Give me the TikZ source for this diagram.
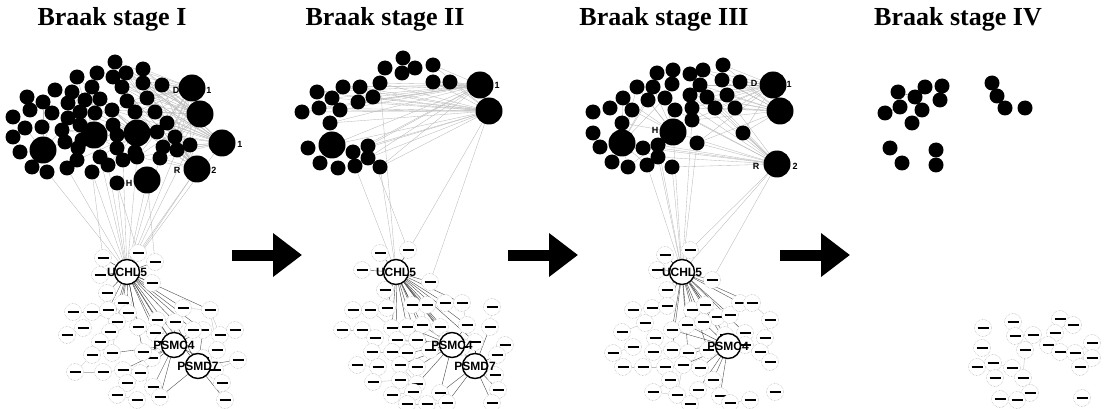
\documentclass[tikz,border=0pt]{standalone}
\usepackage{fontspec}
\setmainfont{Liberation Serif}
\setsansfont{Liberation Sans}
\usepackage{tikz}
\usetikzlibrary{arrows.meta,backgrounds,positioning}

\newcommand{\genebar}{\rule[-1.4pt]{11pt}{2.8pt}}

\begin{document}
\begin{tikzpicture}[x=1pt, y=-1pt,
   hub/.style={circle,fill=black,minimum size=15pt,inner sep=0pt},
   bighub/.style={circle,fill=black,minimum size=27pt,inner sep=0pt},
   prot/.style={circle,draw=gray!65,densely dotted,line width=0.5pt,fill=white,minimum size=17pt,inner sep=0pt},
   keyprot/.style={circle,draw=black,line width=1.4pt,fill=white,minimum size=25pt,inner sep=0pt},
   keyname/.style={font=\sffamily\bfseries\fontsize{12}{12}\selectfont,inner sep=0pt},
   frag/.style={font=\sffamily\bfseries\fontsize{9}{9}\selectfont,inner sep=0pt},
   stage/.style={font=\bfseries\fontsize{26}{26}\selectfont,inner sep=0pt},
   link/.style={draw=gray!55,line width=0.35pt},
   tie/.style={draw=black!70,line width=0.4pt},
   bigarrow/.style={line width=11pt,-{Triangle[length=29pt,width=42pt]}}]
   \useasboundingbox (0,0) rectangle (1104,409);

   \node[stage] (stA) at (112,19) {Braak stage I};
   \node[stage] (stB) at (385,19) {Braak stage II};
   \node[stage] (stC) at (664,19) {Braak stage III};
   \node[stage] (stD) at (958,19) {Braak stage IV};

   \coordinate (arrAs) at (232,255);
   \coordinate (arrAe) at (302,255);
   \coordinate (arrBs) at (508,255);
   \coordinate (arrBe) at (578,255);
   \coordinate (arrCs) at (780,255);
   \coordinate (arrCe) at (850,255);
   \draw[bigarrow] (arrAs) -- (arrAe);
   \draw[bigarrow] (arrBs) -- (arrBe);
   \draw[bigarrow] (arrCs) -- (arrCe);

   \foreach \x/\y [count=\k] in {115/62,97/73,77/77,113/77,126/73,143/69,55/90,27/97,72/92,92/87,
      122/87,143/83,162/85,43/102,68/103,85/100,100/99,127/101,147/98,13/117,30/110,52/113,68/118,
      80/112,95/113,112/110,135/112,155/112,25/128,42/127,62/130,80/125,113/125,167/123,13/137,
      65/142,82/140,117/135,157/132,175/137,20/152,78/148,117/148,135/152,163/147,177/150,190/145,
      32/167,47/172,67/168,77/160,92/172,100/157,108/165,123/160,137/157,160/158,117/183}
      \node[hub] (pAt\k) at (\x,\y) {};
   \foreach \x/\y [count=\k] in {192/88,200/114,222/143,197/169,43/150,94/135,137/133,147/180}
      \node[bighub] (pAb\k) at (\x,\y) {};
   \node[frag] (pAf1) at (176,90) {D};
   \node[frag] (pAf2) at (209,90) {1};
   \node[frag] (pAf3) at (240,144) {1};
   \node[frag] (pAf4) at (177,170) {R};
   \node[frag] (pAf5) at (214,170) {2};
   \node[frag] (pAf6) at (129,183) {H};

   \foreach \x/\y [count=\k] in {103/258,138/253,155/262,100/275,152/283,107/293,123/303,73/312,
      92/312,108/310,128/313,117/322,138/327,157/320,175/322,183/308,210/310,83/328,67/335,203/330,
      220/335,110/332,155/333,100/342,112/353,92/355,75/372,103/372,123/370,140/373,152/358,163/342,
      143/352,203/358,217/350,215/370,222/383,193/330,127/383,153/387,117/395,137/400,160/397,
      225/400,238/360,235/330}
      \node[prot] (pAs\k) at (\x,\y) {\genebar};
   \node[keyprot] (pAu) at (127,272) {};
   \node[keyname] (pAuTxt) at (pAu) {UCHL5};
   \node[keyprot] (pAc) at (174,345) {};
   \node[keyname] (pAcTxt) at (pAc) {PSMC4};
   \node[keyprot] (pAd) at (198,366) {};
   \node[keyname] (pAdTxt) at (pAd) {PSMD7};

   \foreach \x/\y [count=\k] in {403/58,385/68,402/73,415/68,433/65,433/82,450/82,380/83,360/87,
      343/87,317/92,332/98,358/102,373/97,302/112,319/108,340/110,330/123,308/148,353/152,368/146,
      320/163,338/168,355/166,368/158,380/167}
      \node[hub] (pBt\k) at (\x,\y) {};
   \foreach \x/\y [count=\k] in {480/85,489/111,332/145}
      \node[bighub] (pBb\k) at (\x,\y) {};
   \node[frag] (pBf1) at (452,83) {D};
   \node[frag] (pBf2) at (497,85) {1};

   \foreach \x/\y [count=\k] in {380/253,408/250,362/270,430/282,385/290,353/310,370/310,387/308,
      412/305,427/305,445/303,462/303,492/307,342/330,362/330,392/328,407/327,422/325,440/327,
      467/325,490/327,505/345,375/338,397/340,417/340,447/340,475/342,372/352,392/352,407/353,
      430/350,462/347,497/355,357/365,378/367,400/365,417/367,495/375,373/382,400/380,417/384,
      498/390,392/395,413/392,440/393,407/404,427/404,447/403,492/403}
      \node[prot] (pBs\k) at (\x,\y) {\genebar};
   \node[keyprot] (pBu) at (396,272) {};
   \node[keyname] (pBuTxt) at (pBu) {UCHL5};
   \node[keyprot] (pBc) at (452,345) {};
   \node[keyname] (pBcTxt) at (pBc) {PSMC4};
   \node[keyprot] (pBd) at (475,366) {};
   \node[keyname] (pBdTxt) at (pBd) {PSMD7};

   \foreach \x/\y [count=\k] in {723/65,703/70,690/74,673/70,657/73,637/87,653/87,672/84,700/85,
      722/80,740/82,623/98,648/100,665/98,690/95,707/97,727/95,610/108,632/110,675/110,692/108,
      715/108,735/108,593/112,622/123,692/120,593/133,600/147,643/148,658/145,697/143,743/133,
      612/162,628/167,647/165,658/157,672/167}
      \node[hub] (pCt\k) at (\x,\y) {};
   \foreach \x/\y [count=\k] in {773/85,780/111,777/164,622/143,673/132}
      \node[bighub] (pCb\k) at (\x,\y) {};
   \node[frag] (pCf1) at (754,83) {D};
   \node[frag] (pCf2) at (789,84) {1};
   \node[frag] (pCf3) at (756,166) {R};
   \node[frag] (pCf4) at (795,166) {2};
   \node[frag] (pCf5) at (655,130) {H};

   \foreach \x/\y [count=\k] in {665/255,690/250,657/270,712/280,667/290,633/310,652/308,667/306,
      692/310,705/305,717/317,730/315,740/303,752/303,770/320,645/323,622/332,655/338,672/330,
      687/325,703/322,725/335,745/333,765/338,633/347,613/353,653/352,672/350,688/353,708/350,
      745/345,760/352,623/367,643/367,665/367,683/365,700/368,770/362,670/380,713/380,653/392,
      677/395,698/390,720/396,690/404,730/403,750/400,775/392}
      \node[prot] (pCs\k) at (\x,\y) {\genebar};
   \node[keyprot] (pCu) at (682,272) {};
   \node[keyname] (pCuTxt) at (pCu) {UCHL5};
   \node[keyprot] (pCc) at (728,346) {};
   \node[keyname] (pCcTxt) at (pCc) {PSMC4};

   \foreach \x/\y [count=\k] in {898/92,925/87,942/86,915/97,940/100,900/107,885/113,922/110,
      912/123,992/83,997/96,1005/108,1025/108,890/148,902/163,936/150,936/165}
      \node[hub] (pDt\k) at (\x,\y) {};
   \foreach \x/\y [count=\k] in {983/328,1013/322,1060/319,1073/325,1015/336,1033/335,1055/333,
      982/348,1025/350,1048/345,1060/352,1075/353,1092/343,1092/358,977/367,993/363,1012/368,
      1080/367,995/378,1023/378,1030/393,1000/399,1017/400,1082/398}
      \node[prot] (pDs\k) at (\x,\y) {\genebar};

   \begin{pgfonlayer}{background}
    \foreach \b in {1,...,4}
     \foreach \k in {1,4,5,6,11,12,13,18,19,26,27,28,34,39,40,45,46,47,56,57}
      \draw[link] (pAb\b) -- (pAt\k);
    \foreach \b in {6,7}
     \foreach \k in {3,9,10,16,17,23,24,25,31,33,38,42,43,51,53,54}
      \draw[link] (pAb\b) -- (pAt\k);
    \foreach \k in {14,22,29,31,36}
      \draw[link] (pAb5) -- (pAt\k);
    \foreach \k in {46,47,49,50,52,53,54,55,56,57,58}
      \draw[link] (pAt\k) -- (pAu);
    \draw[link] (pAb3) -- (pAu);
    \draw[link] (pAb4) -- (pAu);
    \draw[link] (pAb8) -- (pAu);
    \draw[link] (pAt52) -- (pAs1);
    \draw[link] (pAt58) -- (pAs2);
    \draw[link] (pAb4) -- (pAs2);
    \draw[link] (pAb8) -- (pAs3);
    \foreach \k in {1,2,3,4,5,6,7,10,11,12,13,14,15,16,17,20,22,23,32,33,38}
      \draw[tie] (pAu) -- (pAs\k);
    \draw[tie] (pAu) -- (pAc);
    \draw[tie] (pAu) -- (pAd);
    \foreach \k in {13,14,15,20,23,25,29,30,31,32,33,34,38,40,43}
      \draw[tie] (pAc) -- (pAs\k);
    \foreach \k in {15,20,21,34,35,36,37,43,44,45}
      \draw[tie] (pAd) -- (pAs\k);
    \foreach \i/\j in {8/9,18/19,24/26,27/28,9/12,46/21,17/35,19/18,26/27,41/42,
                       10/22,12/25,28/29,29/39,30/40,16/17,17/21,45/36,7/11,24/22}
      \draw[link] (pAs\i) -- (pAs\j);

    \foreach \b in {1,2}
     \foreach \k in {5,6,7,8,9,10,11,12,13,14,15,16,17,18,20,21,25,26}
      \draw[link] (pBb\b) -- (pBt\k);
    \draw[link] (pBb3) -- (pBb1);
    \draw[link] (pBb3) -- (pBb2);
    \foreach \k in {8,24,26}
      \draw[link] (pBt\k) -- (pBu);
    \draw[link] (pBb2) -- (pBu);
    \draw[link] (pBb2) -- (pBs4);
    \draw[link] (pBt21) -- (pBs2);
    \foreach \k in {1,2,3,4,5,8,9,10,11,12,16,17,18,19,20,24,25,26,27,31}
      \draw[tie] (pBu) -- (pBs\k);
    \draw[tie] (pBu) -- (pBc);
    \draw[tie] (pBu) -- (pBd);
    \foreach \k in {17,18,19,20,24,25,26,27,30,31,32,36,37,41,45}
      \draw[tie] (pBc) -- (pBs\k);
    \foreach \k in {21,27,33,38,42,45,48,49}
      \draw[tie] (pBd) -- (pBs\k);
    \foreach \i/\j in {14/15,6/7,34/35,28/29,13/21,22/33,39/40,43/44,46/47,
                       7/16,15/23,23/28,29/36,36/41,40/44,11/12,12/20,10/18,30/37,47/48}
      \draw[link] (pBs\i) -- (pBs\j);

    \foreach \b in {1,2}
     \foreach \k in {1,2,9,10,11,15,16,17,21,22,23,26,31,32}
      \draw[link] (pCb\b) -- (pCt\k);
    \foreach \k in {9,15,16,20,21,22,23,26,29,30,31,32,36,37}
      \draw[link] (pCb3) -- (pCt\k);
    \draw[link] (pCb3) -- (pCb4);
    \draw[link] (pCb3) -- (pCb5);
    \foreach \b in {4,5}
     \foreach \k in {6,7,12,13,14,19,25,29,30,34,35,36}
      \draw[link] (pCb\b) -- (pCt\k);
    \foreach \k in {26,30,31,35,36,37}
      \draw[link] (pCt\k) -- (pCu);
    \draw[link] (pCb3) -- (pCu);
    \draw[link] (pCb5) -- (pCu);
    \draw[link] (pCb3) -- (pCs2);
    \draw[link] (pCb3) -- (pCs4);
    \foreach \k in {1,2,3,4,5,8,9,10,11,12,13,14,19,20,21,22,23,28,29,30}
      \draw[tie] (pCu) -- (pCs\k);
    \draw[tie] (pCu) -- (pCc);
    \foreach \k in {19,20,21,22,23,28,29,30,31,32,36,37,40,43,44}
      \draw[tie] (pCc) -- (pCs\k);
    \foreach \i/\j in {6/7,16/17,25/26,33/34,41/42,15/24,24/38,39/35,45/43,
                       7/16,18/27,27/28,34/35,39/41,42/45,13/14,14/15,12/22,36/42,46/47}
      \draw[link] (pCs\i) -- (pCs\j);

    \foreach \i/\j in {6/7,1/4,4/8,8/9,10/11}
      \draw[tie] (pDt\i) -- (pDt\j);
    \foreach \i/\j in {5/9,6/10,10/11,9/6,16/17,3/4,7/10,12/13,2/5,17/20,19/16,11/12,13/14,9/20}
      \draw[link] (pDs\i) -- (pDs\j);
   \end{pgfonlayer}
\end{tikzpicture}
\end{document}
